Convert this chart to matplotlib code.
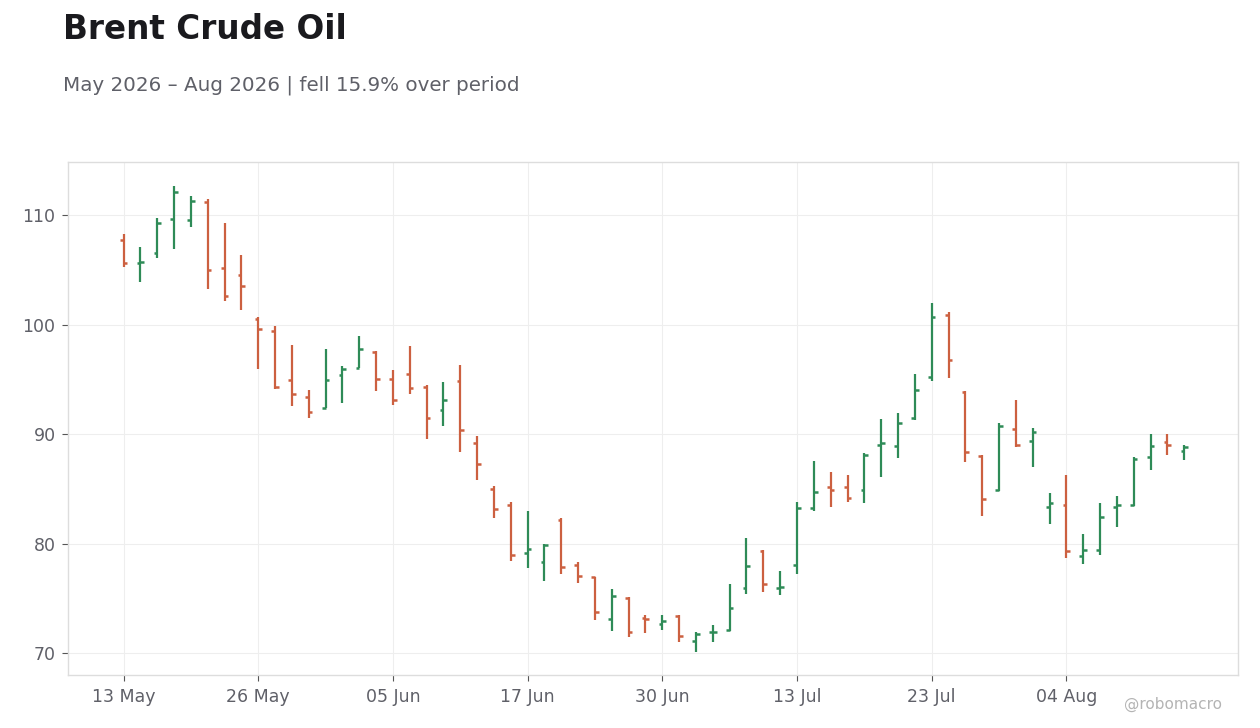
import matplotlib
matplotlib.use("Agg")
import matplotlib.pyplot as plt
import numpy as np

# OHLC values, one entry per trading session
opens = [107.75, 105.62, 106.56, 109.63, 109.57, 111.22, 105.19, 104.55, 100.53, 99.43,
         94.96, 93.41, 92.40, 95.42, 96.03, 97.46, 95.05, 95.51, 94.32, 92.22,
         94.87, 89.21, 85.00, 83.54, 79.16, 78.34, 82.18, 78.07, 76.97, 73.13,
         75.00, 73.20, 72.68, 73.40, 71.12, 71.89, 72.13, 75.97, 79.34, 75.90,
         78.07, 83.27, 85.19, 85.19, 84.91, 89.03, 88.93, 91.49, 95.24, 100.90,
         93.87, 88.02, 84.91, 90.49, 89.39, 83.36, 83.54, 78.89, 79.43, 83.36,
         83.52, 87.93, 89.30, 88.47]
highs = [108.24, 107.08, 109.73, 112.65, 111.74, 111.43, 109.27, 106.35, 100.66, 99.86,
         98.13, 94.02, 97.76, 96.21, 98.95, 97.58, 95.84, 98.04, 94.44, 94.75,
         96.35, 89.82, 85.25, 83.76, 82.97, 80.00, 82.30, 78.28, 76.97, 75.84,
         75.08, 73.44, 73.44, 73.44, 71.89, 72.56, 76.30, 80.50, 79.41, 77.49,
         83.79, 87.53, 86.53, 86.26, 88.26, 91.37, 91.92, 95.48, 101.96, 101.11,
         93.90, 88.11, 90.97, 93.10, 90.55, 84.61, 86.26, 80.87, 83.70, 84.34,
         87.87, 90.00, 90.00, 88.97]
lows = [105.28, 103.88, 106.10, 106.92, 108.93, 103.27, 102.17, 101.35, 95.97, 94.14,
        92.59, 91.49, 92.37, 92.86, 96.03, 93.96, 92.68, 93.68, 89.57, 90.76,
        88.39, 85.83, 82.36, 78.43, 77.79, 76.60, 77.25, 76.42, 73.04, 72.04,
        71.43, 71.86, 72.13, 71.03, 70.12, 71.03, 72.00, 75.42, 75.60, 75.33,
        77.24, 83.00, 83.36, 83.82, 83.73, 86.10, 87.84, 91.31, 94.87, 95.14,
        87.47, 82.54, 84.82, 88.84, 87.02, 81.81, 78.70, 78.16, 78.98, 81.54,
        83.42, 86.74, 88.11, 87.65]
closes = [105.62, 105.74, 109.30, 112.13, 111.31, 105.00, 102.63, 103.54, 99.62, 94.29,
          93.68, 92.04, 94.96, 95.97, 97.79, 95.05, 93.13, 94.23, 91.46, 93.10,
          90.40, 87.29, 83.18, 78.95, 79.53, 79.89, 77.88, 77.06, 73.77, 75.23,
          71.95, 73.10, 72.95, 71.58, 71.76, 71.95, 74.14, 77.98, 76.33, 76.00,
          83.24, 84.73, 84.91, 84.18, 88.11, 89.21, 91.03, 94.05, 100.71, 96.79,
          88.39, 84.09, 90.76, 89.03, 90.15, 83.73, 79.34, 79.43, 82.45, 83.54,
          87.75, 88.93, 89.03, 88.84]

tick_pos = [0, 8, 16, 24, 32, 40, 48, 56]
tick_labels = ["13 May", "26 May", "05 Jun", "17 Jun", "30 Jun", "13 Jul", "23 Jul", "04 Aug"]

UP = "#2e8b57"
DOWN = "#cc6040"

o = np.array(opens)
h = np.array(highs)
l = np.array(lows)
c = np.array(closes)
x = np.arange(len(o))
cols = [UP if cc >= oo else DOWN for oo, cc in zip(o, c)]

fig = plt.figure(figsize=(12.6, 7.28), dpi=100)
ax = fig.add_axes([0.054, 0.0728, 0.9286, 0.7047])

ax.vlines(x, l, h, colors=cols, linewidth=1.6, zorder=3)
ax.hlines(o, x - 0.22, x, colors=cols, linewidth=1.8, zorder=3)
ax.hlines(c, x, x + 0.22, colors=cols, linewidth=1.8, zorder=3)

ax.set_xlim(-3.3, 66.2)
ax.set_ylim(68, 114.85)
ax.set_yticks([70, 80, 90, 100, 110])
ax.set_xticks(tick_pos)
ax.set_xticklabels(tick_labels)

ax.grid(True, color="#eeeeee", linewidth=0.8, zorder=0)
ax.set_axisbelow(True)
for s in ax.spines.values():
    s.set_color("#dddddd")
    s.set_linewidth(1.0)
ax.tick_params(axis="both", colors="#555555", labelcolor="#5f6068",
               labelsize=12.5, length=4, width=0.8, pad=5)

fig.text(0.05, 0.96, "Brent Crude Oil", fontsize=23.5, fontweight="bold",
         color="#1a1a1e", ha="left", va="center")
fig.text(0.05, 0.883, "May 2026 \u2013 Aug 2026 | fell 15.9% over period",
         fontsize=14.3, color="#5f6068", ha="left", va="center")
fig.text(0.97, 0.032, "@robomacro", fontsize=11, color="#b4b4b4",
         ha="right", va="center")

fig.savefig("out.png", dpi=100)
